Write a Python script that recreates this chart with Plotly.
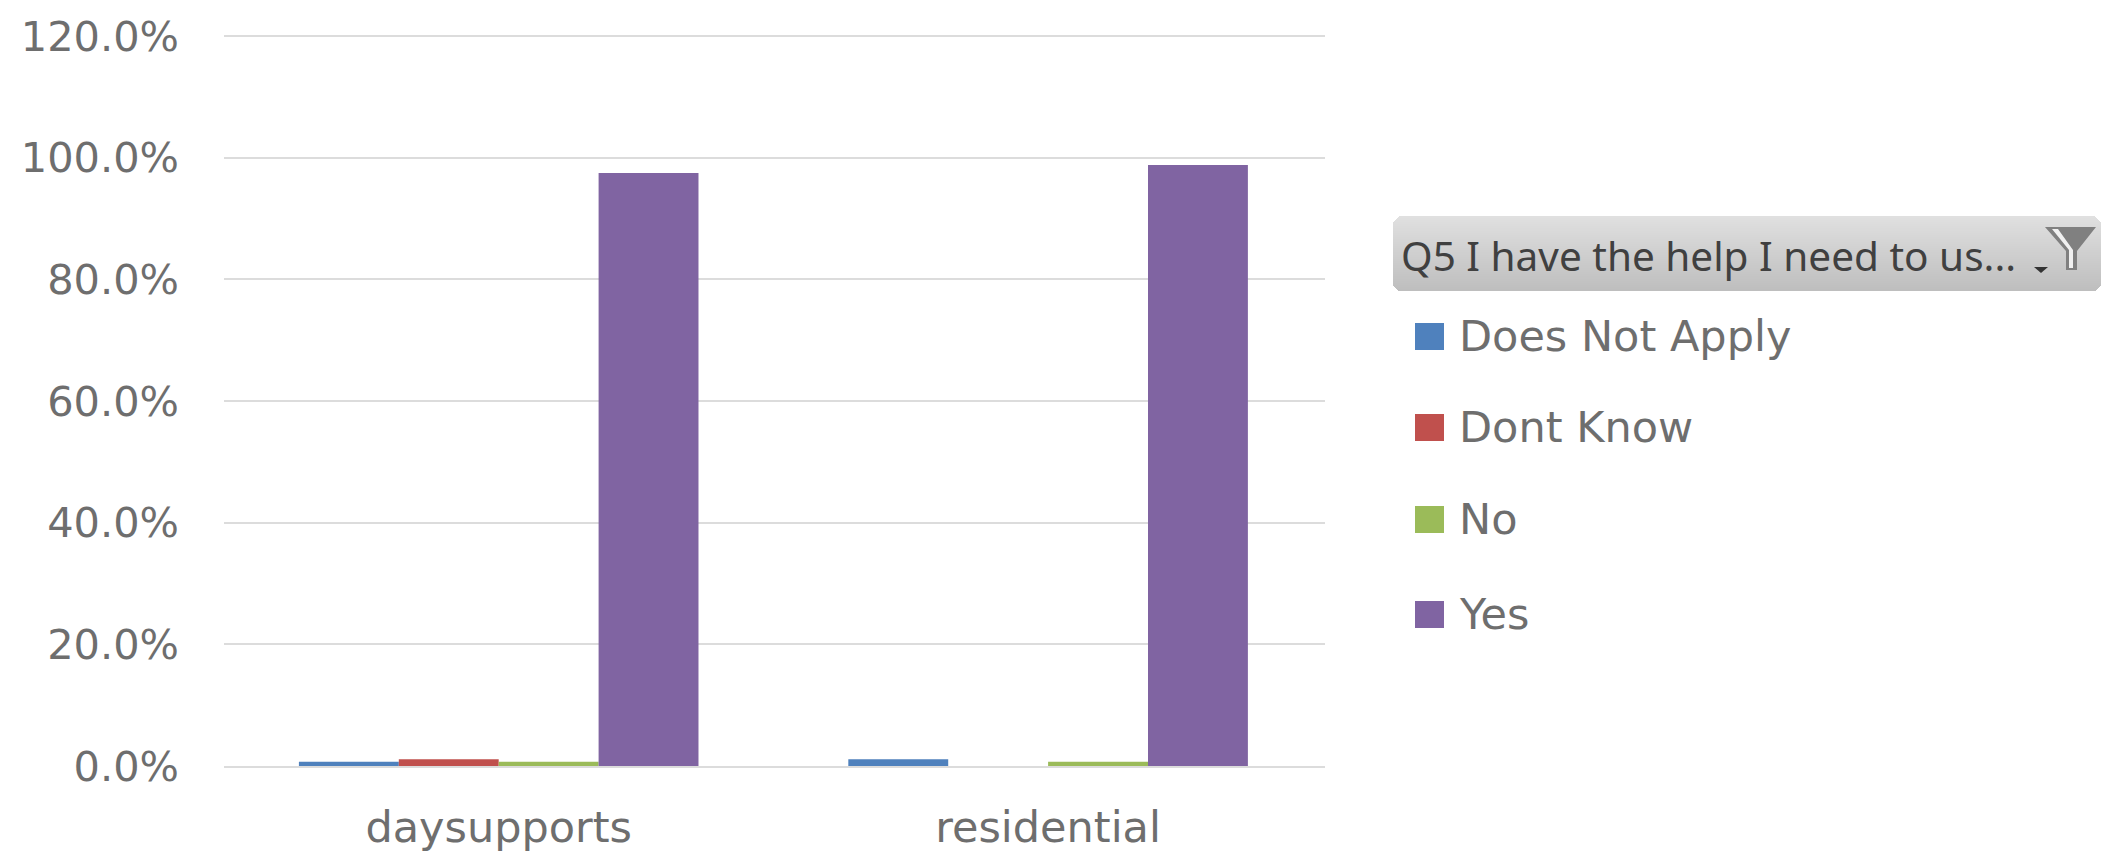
import plotly.graph_objects as go

categories = ["daysupports", "residential"]
series_names = ["Does Not Apply", "Dont Know", "No", "Yes"]
does_not_apply = [0.7, 1.1]
dont_know = [1.1, None]
no = [0.7, 0.7]
yes = [97.5, 98.8]
series_values = [does_not_apply, dont_know, no, yes]
series_colors = ["#4F81BD", "#C0504D", "#9BBB59", "#8064A2"]
y_ticks = [0, 20, 40, 60, 80, 100, 120]
y_tick_labels = ["0.0%", "20.0%", "40.0%", "60.0%", "80.0%", "100.0%", "120.0%"]
filter_label = "Q5 I have the help I need to us..."

W, H = 2103, 851
L, R, T, B = 224, 1325, 33, 766
FONT = "DejaVu Sans, sans-serif"
GRAY = "#6E6E6E"


def px(x):
    return (x - L) / (R - L)


def py(y):
    return (B - y) / (B - T)


fig = go.Figure()
for name, vals, col in zip(series_names, series_values, series_colors):
    fig.add_bar(name=name, x=categories, y=vals, marker=dict(color=col, line=dict(width=0)))

shapes = []
annotations = []


def rect(x0, y0, x1, y1, fill):
    shapes.append(dict(type="rect", xref="paper", yref="paper", x0=px(x0), x1=px(x1),
                       y0=py(y0), y1=py(y1), fillcolor=fill, line=dict(width=0), layer="above"))


def path(points, fill="rgba(0,0,0,0)"):
    d = "M" + " L".join(f"{px(a):.5f},{py(b):.5f}" for a, b in points) + " Z"
    shapes.append(dict(type="path", xref="paper", yref="paper", path=d, fillcolor=fill,
                       line=dict(width=0), layer="above"))


# filter button: vertical gradient built from overlapping strips
btn_l, btn_r, btn_t, btn_b = 1393, 2101, 216, 291
top_c, bot_c = (224, 224, 224), (190, 190, 190)
n = btn_b - btn_t
for i in range(n):
    f = i / (n - 1)
    c = tuple(round(a + (b - a) * f) for a, b in zip(top_c, bot_c))
    inset = 0
    if i < 6:
        inset = 6 - i
    elif i > n - 7:
        inset = i - (n - 7)
    bottom = btn_t + i + (2 if i < n - 1 else 1)
    rect(btn_l + inset, btn_t + i, btn_r - inset, bottom, f"rgb{c}")

# funnel icon and drop-down arrow
path([(2045, 227), (2096, 227), (2077, 251), (2077, 270), (2066, 270), (2066, 251)], fill="#808080")
path([(2052, 229), (2058, 229), (2073, 250), (2073, 268), (2069, 268), (2069, 250)], fill="#F0F0F0")
path([(2034, 267), (2048, 267), (2041, 273)], fill="#333333")

annotations.append(dict(text=filter_label, xref="paper", yref="paper", x=px(1399), y=py(256),
                        xanchor="left", yanchor="middle", showarrow=False,
                        font=dict(family="Noto Sans, sans-serif", size=40.5, color="#404040")))

# legend
swatch_tops = [323, 414, 506, 601]
for name, col, top in zip(series_names, series_colors, swatch_tops):
    rect(1415, top, 1444, top + 27, col)
    annotations.append(dict(text=name, xref="paper", yref="paper", x=px(1457), y=py(top + 13),
                            xanchor="left", yanchor="middle", showarrow=False,
                            font=dict(family=FONT, size=43, color=GRAY)))

fig.update_layout(
    width=W, height=H, autosize=False,
    margin=dict(l=L, r=W - R, t=T, b=H - B, pad=0),
    paper_bgcolor="white", plot_bgcolor="white",
    barmode="group", bargap=0.2727, bargroupgap=0,
    showlegend=False,
    shapes=shapes, annotations=annotations,
    font=dict(family=FONT, color=GRAY),
)
fig.update_xaxes(range=[-0.5, 1.504], showgrid=False, showline=True, linecolor="#DCDCDC", linewidth=2,
                 ticks="", automargin=False,
                 tickfont=dict(size=43, color=GRAY, family=FONT), ticklabelstandoff=22)
fig.update_yaxes(range=[0, 120.5], tickvals=y_ticks, ticktext=y_tick_labels, automargin=False,
                 showgrid=True, gridcolor="#DCDCDC", gridwidth=2, zeroline=False, showline=False,
                 ticks="", tickfont=dict(size=41.5, color=GRAY, family=FONT), ticklabelstandoff=44)

fig.write_html("out.html", config=dict(displayModeBar=False),
               post_script="document.body.style.margin='0';document.body.style.overflow='hidden';")
